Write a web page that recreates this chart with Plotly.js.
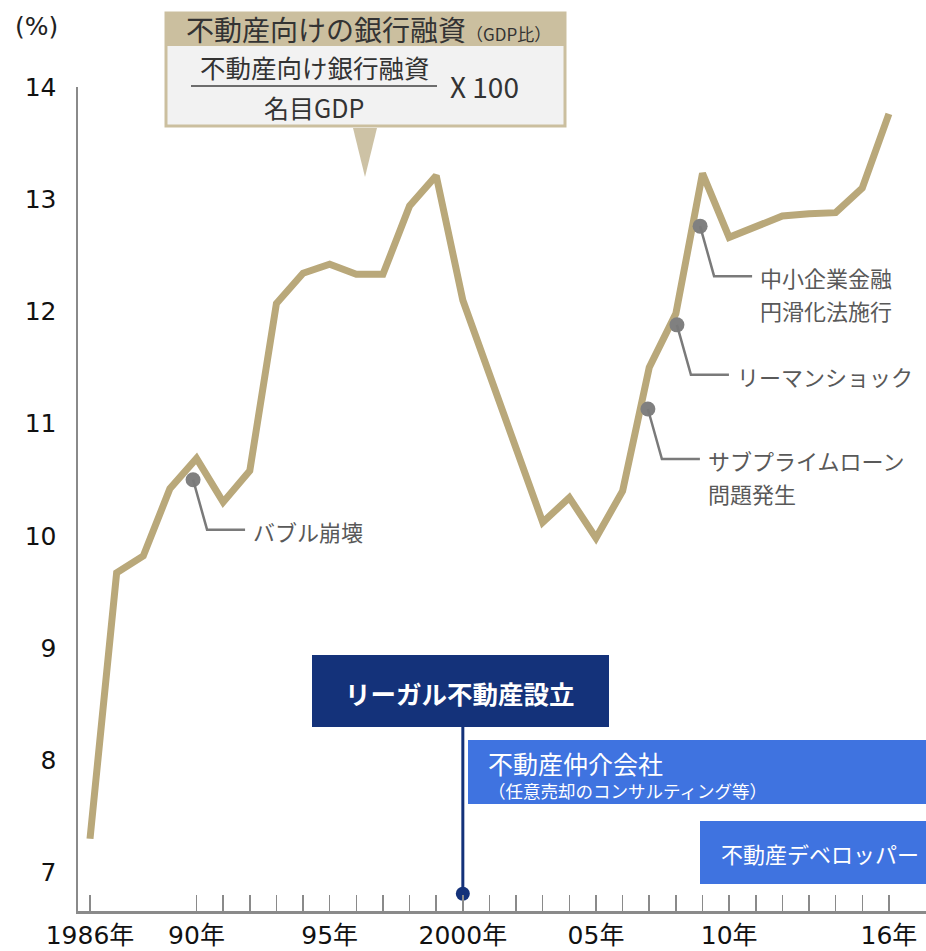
<!DOCTYPE html>
<html>
<head>
<meta charset="utf-8">
<script src="https://cdn.plot.ly/plotly-3.0.1.min.js"></script>
<style>html,body{margin:0;padding:0;background:#fff;}#chart{width:926px;height:951px;}</style>
</head>
<body>
<div id="chart"></div>
<script>
// ---- data ----
const years = [1986,1987,1988,1989,1990,1991,1992,1993,1994,1995,1996,1997,1998,1999,2000,2001,2002,2003,2004,2005,2006,2007,2008,2009,2010,2011,2012,2013,2014,2015,2016];
const loanRatio = [7.30,9.67,9.82,10.42,10.69,10.30,10.58,12.07,12.34,12.42,12.33,12.33,12.94,13.21,12.10,11.43,10.78,10.12,10.34,9.98,10.40,11.50,11.98,13.23,12.66,12.76,12.85,12.87,12.88,13.10,13.76];
const tickYears = [1986,1990,1991,1992,1993,1994,1995,1996,1997,1998,1999,2000,2001,2002,2003,2004,2005,2006,2007,2008,2009,2010,2011,2012,2013,2014,2015,2016];
const tickLabels = {1986:"1986年",1990:"90年",1995:"95年",2000:"2000年",2005:"05年",2010:"10年",2016:"16年"};
const yTicks = [7,8,9,10,11,12,13,14];
const eventLabels = [["バブル崩壊"],["サブプライムローン","問題発生"],["リーマンショック"],["中小企業金融","円滑化法施行"]];
const eventX = [1989.87, 2006.95, 2008.04, 2008.91];
const eventY = [10.50, 11.13, 11.88, 12.76];
const foundYear = 2000;
const foundMarkY = 6.81;
const titleMain = "不動産向けの銀行融資";
const titleSub = "（GDP比）";
const numerator = "不動産向け銀行融資";
const denominator = "名目GDP";
const multiplier = "X 100";
const foundLabel = "リーガル不動産設立";
const biz1 = "不動産仲介会社";
const biz1Sub = "（任意売却のコンサルティング等）";
const biz2 = "不動産デベロッパー";
const unitLabel = "(%)";

// ---- layout helpers (pixel -> paper) ----
const L = 78, T = 87, W = 848, H = 824;
const px = v => (v - L) / W;
const py = v => (T + H - v) / H;

const JP = "Noto Sans CJK JP, Noto Sans, sans-serif";
const TAN = "#b9a87a";
const GRAY = "#595959";

const traces = [
  {x: years, y: loanRatio, type: "scatter", mode: "lines",
   line: {color: TAN, width: 7}, hoverinfo: "skip", cliponaxis: false},
  {x: eventX, y: eventY, type: "scatter", mode: "markers",
   marker: {color: "#808080", size: 15}, hoverinfo: "skip", cliponaxis: false},
  {x: [foundYear], y: [foundMarkY], type: "scatter", mode: "markers",
   marker: {color: "#14327a", size: 14}, hoverinfo: "skip", cliponaxis: false}
];

const shapes = [];
eventX.forEach((ex, i) => {
  shapes.push({type: "path", xref: "x", yref: "y", xsizemode: "pixel", ysizemode: "pixel",
    xanchor: ex, yanchor: eventY[i], path: "M0,0 L14,-50 L52,-50",
    line: {color: "#7a7a7a", width: 2.5}, layer: "above"});
});
shapes.push({type: "line", xref: "x", yref: "paper", x0: foundYear, x1: foundYear,
  y0: py(893), y1: py(727), line: {color: "#14327a", width: 3}, layer: "below"});
shapes.push({type: "rect", xref: "paper", yref: "paper", x0: px(312), x1: px(609), y0: py(727), y1: py(655),
  fillcolor: "#14327a", line: {width: 0}, layer: "above"});
shapes.push({type: "rect", xref: "paper", yref: "paper", x0: px(468), x1: px(926), y0: py(804), y1: py(740),
  fillcolor: "#3f73e0", line: {width: 0}, layer: "above"});
shapes.push({type: "rect", xref: "paper", yref: "paper", x0: px(700), x1: px(926), y0: py(884), y1: py(821),
  fillcolor: "#3f73e0", line: {width: 0}, layer: "above"});
shapes.push({type: "rect", xref: "paper", yref: "paper", x0: px(166), x1: px(565), y0: py(126), y1: py(13),
  fillcolor: "#f2f2f2", line: {color: "#cbbf9f", width: 3}, layer: "above"});
shapes.push({type: "rect", xref: "paper", yref: "paper", x0: px(166), x1: px(565), y0: py(46), y1: py(13),
  fillcolor: "#cbbf9f", line: {width: 0}, layer: "above"});
shapes.push({type: "line", xref: "paper", yref: "paper", x0: px(191), x1: px(437), y0: py(86), y1: py(86),
  line: {color: "#404040", width: 1.5}, layer: "above"});
shapes.push({type: "path", xref: "paper", yref: "paper",
  path: `M${px(353)},${py(128)} L${px(377)},${py(128)} L${px(365)},${py(177)} Z`,
  fillcolor: "#cdc2a5", line: {width: 0}, layer: "above"});

const ann = [];
eventLabels.forEach((lines, i) => {
  lines.forEach((t, j) => {
    ann.push({x: eventX[i], y: eventY[i], xref: "x", yref: "y", text: t, showarrow: false,
      xanchor: "left", yanchor: "middle", xshift: 58, yshift: -51 - 33 * j, align: "left",
      font: {family: JP, size: 22, color: GRAY}});
  });
});
const A = (x, y, text, font, xanchor) => ann.push({x: px(x), y: py(y), xref: "paper", yref: "paper",
  text, showarrow: false, xanchor: xanchor || "center", yanchor: "middle", font, align: "left"});
A(184, 29, titleMain + `<span style="font-size:17px">${titleSub}</span>`, {family: JP, size: 28, color: "#333"}, "left");
A(315, 66, numerator, {family: JP, size: 25.5, color: "#333"});
A(314, 107, denominator, {family: JP, size: 25, color: "#333"});
A(448, 86, multiplier, {family: JP, size: 28, color: "#333"}, "left");
A(460, 692, `<b>${foundLabel}</b>`, {family: JP, size: 25.5, color: "#fff"});
A(486, 763, biz1, {family: JP, size: 25, color: "#fff"}, "left");
A(486, 790, biz1Sub, {family: JP, size: 17.5, color: "#fff"}, "left");
A(719, 853, biz2, {family: JP, size: 22, color: "#fff"}, "left");
A(36, 26, unitLabel, {family: "DejaVu Sans, Noto Sans CJK JP", size: 25, color: "#222"});

const layout = {
  width: 926, height: 951,
  margin: {l: L, r: 926 - L - W, t: T, b: 951 - T - H, pad: 0},
  paper_bgcolor: "#fff", plot_bgcolor: "#fff", showlegend: false,
  xaxis: {range: [1985.549, 2017.393], tickvals: tickYears,
    ticktext: tickYears.map(y => tickLabels[y] || ""),
    ticks: "inside", ticklen: 16, tickcolor: "#8a8a8a", tickwidth: 1.5,
    showline: true, linecolor: "#8a8a8a", linewidth: 2.5, showgrid: false, zeroline: false,
    tickfont: {family: "DejaVu Sans, Noto Sans CJK JP", size: 25, color: "#111"}, fixedrange: true},
  yaxis: {range: [6.656, 14], tickvals: yTicks, ticks: "", showline: true,
    linecolor: "#8a8a8a", linewidth: 2.5, showgrid: false, zeroline: false,
    ticklabelstandoff: 14,
    tickfont: {family: "DejaVu Sans, Noto Sans CJK JP", size: 25, color: "#111"}, fixedrange: true},
  shapes, annotations: ann
};
Plotly.newPlot("chart", traces, layout, {staticPlot: true, displayModeBar: false});
</script>
</body>
</html>
